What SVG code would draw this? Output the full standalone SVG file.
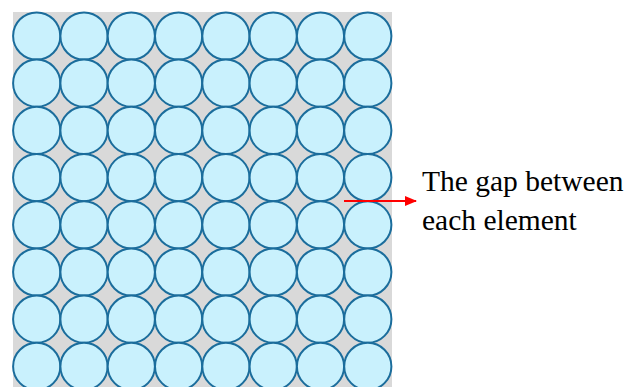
<svg xmlns="http://www.w3.org/2000/svg" width="627" height="387" viewBox="0 0 627 387">
<defs>
<style>
.c{fill:#c9f1fd;stroke:#1b6d9c;stroke-width:2}
.t{font-family:"Liberation Serif",serif;font-size:29.5px;fill:#000}
</style>
<circle id="e" class="c" r="23.6"/>
<marker id="ah" markerWidth="12" markerHeight="12" refX="11" refY="6" orient="auto" markerUnits="userSpaceOnUse">
<path d="M0,1 L12,6 L0,11 Z" fill="#ff0000"/>
</marker>
</defs>
<rect width="627" height="387" fill="#fff"/>
<g id="grid">
<rect x="13" y="12" width="379" height="375" fill="#d9d9d9"/>
<g id="row0"><use href="#e" x="36.7" y="36"/><use href="#e" x="84" y="36"/><use href="#e" x="131.3" y="36"/><use href="#e" x="178.6" y="36"/><use href="#e" x="225.9" y="36"/><use href="#e" x="273.2" y="36"/><use href="#e" x="320.5" y="36"/><use href="#e" x="367.8" y="36"/></g>
<g id="row1"><use href="#e" x="36.7" y="83.2"/><use href="#e" x="84" y="83.2"/><use href="#e" x="131.3" y="83.2"/><use href="#e" x="178.6" y="83.2"/><use href="#e" x="225.9" y="83.2"/><use href="#e" x="273.2" y="83.2"/><use href="#e" x="320.5" y="83.2"/><use href="#e" x="367.8" y="83.2"/></g>
<g id="row2"><use href="#e" x="36.7" y="130.4"/><use href="#e" x="84" y="130.4"/><use href="#e" x="131.3" y="130.4"/><use href="#e" x="178.6" y="130.4"/><use href="#e" x="225.9" y="130.4"/><use href="#e" x="273.2" y="130.4"/><use href="#e" x="320.5" y="130.4"/><use href="#e" x="367.8" y="130.4"/></g>
<g id="row3"><use href="#e" x="36.7" y="177.6"/><use href="#e" x="84" y="177.6"/><use href="#e" x="131.3" y="177.6"/><use href="#e" x="178.6" y="177.6"/><use href="#e" x="225.9" y="177.6"/><use href="#e" x="273.2" y="177.6"/><use href="#e" x="320.5" y="177.6"/><use href="#e" x="367.8" y="177.6"/></g>
<g id="row4"><use href="#e" x="36.7" y="224.8"/><use href="#e" x="84" y="224.8"/><use href="#e" x="131.3" y="224.8"/><use href="#e" x="178.6" y="224.8"/><use href="#e" x="225.9" y="224.8"/><use href="#e" x="273.2" y="224.8"/><use href="#e" x="320.5" y="224.8"/><use href="#e" x="367.8" y="224.8"/></g>
<g id="row5"><use href="#e" x="36.7" y="272"/><use href="#e" x="84" y="272"/><use href="#e" x="131.3" y="272"/><use href="#e" x="178.6" y="272"/><use href="#e" x="225.9" y="272"/><use href="#e" x="273.2" y="272"/><use href="#e" x="320.5" y="272"/><use href="#e" x="367.8" y="272"/></g>
<g id="row6"><use href="#e" x="36.7" y="319.2"/><use href="#e" x="84" y="319.2"/><use href="#e" x="131.3" y="319.2"/><use href="#e" x="178.6" y="319.2"/><use href="#e" x="225.9" y="319.2"/><use href="#e" x="273.2" y="319.2"/><use href="#e" x="320.5" y="319.2"/><use href="#e" x="367.8" y="319.2"/></g>
<g id="row7"><use href="#e" x="36.7" y="366.4"/><use href="#e" x="84" y="366.4"/><use href="#e" x="131.3" y="366.4"/><use href="#e" x="178.6" y="366.4"/><use href="#e" x="225.9" y="366.4"/><use href="#e" x="273.2" y="366.4"/><use href="#e" x="320.5" y="366.4"/><use href="#e" x="367.8" y="366.4"/></g>
</g>
<g id="connectors">
<line x1="344" y1="201" x2="416" y2="201" stroke="#ff0000" stroke-width="2" marker-end="url(#ah)"/>
</g>
<g id="label">
<text class="t" x="422" y="191">The gap between</text>
<text class="t" x="422" y="230">each element</text>
</g>
</svg>
